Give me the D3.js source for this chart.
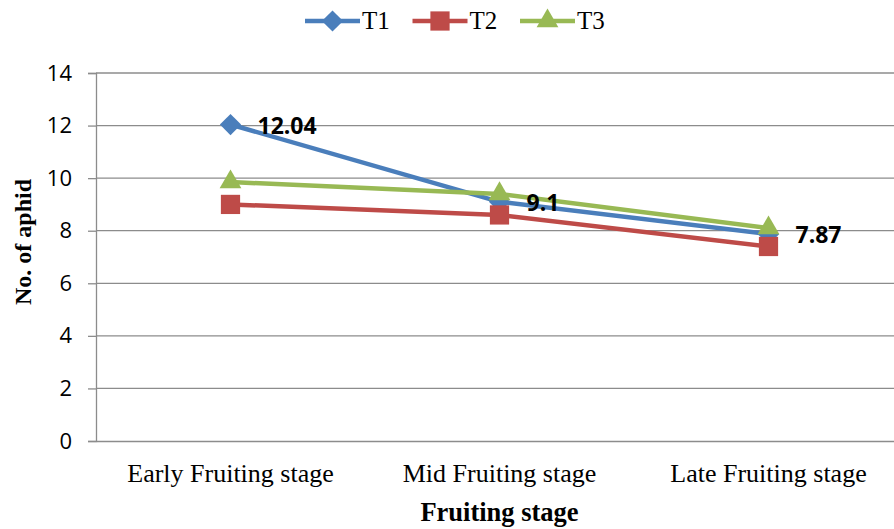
<!DOCTYPE html>
<html>
<head>
<meta charset="utf-8">
<script src="https://cdnjs.cloudflare.com/ajax/libs/d3/7.8.5/d3.min.js"></script>
<style>
  html, body { margin: 0; padding: 0; background: #fff; }
  svg { display: block; }
</style>
</head>
<body>
<svg id="chart" width="894" height="529"></svg>
<script>
// Aphid counts per fruiting stage for three treatments
const stages = ["Early Fruiting stage", "Mid Fruiting stage", "Late Fruiting stage"];
const t1 = [12.04, 9.1, 7.87];
const t2 = [9.0, 8.6, 7.4];
const t3 = [9.85, 9.4, 8.1];
const yTicks = [0, 2, 4, 6, 8, 10, 12, 14];
const seriesNames = ["T1", "T2", "T3"];
const colors = ["#4a7ebb", "#be4b48", "#98b954"];
// diamond = square turned 45 degrees
const markers = [
  { type: d3.symbolSquare, size: 225, rotate: 45 },
  { type: d3.symbolSquare, size: 370, rotate: 0 },
  { type: d3.symbolTriangle, size: 205, rotate: 0 }
];
// T1 carries the value labels
const labelled = [0];

const series = [t1, t2, t3].map((vals, i) => ({ name: seriesNames[i], vals, color: colors[i], marker: markers[i] }));

const svg = d3.select("#chart");
const plotLeft = 96, plotTop = 73, plotBottom = 441, plotRight = 903;

const x = d3.scaleBand().domain(stages).range([plotLeft, plotRight]);
const y = d3.scaleLinear().domain([0, 14]).range([plotBottom, plotTop]);
const cx = s => x(s) + x.bandwidth() / 2;

const grey = "#8c8c8c";
const serif = "'Liberation Serif', 'Times New Roman', serif";
const sans = "'Open Sans', 'Liberation Sans', sans-serif";

// horizontal gridlines
svg.append("g").selectAll("line").data(yTicks.filter(t => t > 0)).join("line")
  .attr("x1", plotLeft).attr("x2", plotRight)
  .attr("y1", d => y(d)).attr("y2", d => y(d))
  .attr("stroke", grey).attr("stroke-width", 1.3);

// y axis
const yAxis = svg.append("g").attr("transform", `translate(${plotLeft},0)`)
  .call(d3.axisLeft(y).tickValues(yTicks).tickSize(8).tickPadding(16));
yAxis.select(".domain").attr("stroke", grey).attr("stroke-width", 1.3);
yAxis.selectAll(".tick line").attr("stroke", grey).attr("stroke-width", 1.3);
yAxis.selectAll(".tick text")
  .attr("font-family", sans).attr("font-size", 22).attr("fill", "#000");

// x axis
const xAxis = svg.append("g").attr("transform", `translate(0,${plotBottom})`)
  .call(d3.axisBottom(x).tickSize(0));
xAxis.select(".domain").attr("stroke", grey).attr("stroke-width", 1.3);
xAxis.selectAll(".tick text")
  .attr("y", 41).attr("dy", 0)
  .attr("font-family", serif).attr("font-size", 26).attr("fill", "#000");

// axis titles
svg.append("text")
  .attr("transform", `translate(31,242) rotate(-90)`)
  .attr("text-anchor", "middle")
  .attr("font-family", serif).attr("font-weight", "bold").attr("font-size", 24)
  .text("No. of aphid");

svg.append("text")
  .attr("x", cx(stages[1])).attr("y", 521)
  .attr("text-anchor", "middle")
  .attr("font-family", serif).attr("font-weight", "bold").attr("font-size", 26.5)
  .text("Fruiting stage");

// lines and markers
const line = d3.line().x((d, i) => cx(stages[i])).y(d => y(d));
const markerPath = m => d3.symbol().type(m.type).size(m.size)();

series.forEach(s => {
  const g = svg.append("g");
  g.append("path").datum(s.vals)
    .attr("d", line).attr("fill", "none")
    .attr("stroke", s.color).attr("stroke-width", 4.5).attr("stroke-linejoin", "round");
  g.selectAll("path.m").data(s.vals).join("path").attr("class", "m")
    .attr("transform", (d, i) => `translate(${cx(stages[i])},${y(d)}) rotate(${s.marker.rotate})`)
    .attr("d", markerPath(s.marker))
    .attr("fill", s.color);
});

// value labels on T1
labelled.forEach(si => {
  svg.append("g").selectAll("text").data(series[si].vals).join("text")
    .attr("x", (d, i) => cx(stages[i]) + 27)
    .attr("y", d => y(d) + 9)
    .attr("font-family", sans).attr("font-weight", "bold").attr("font-size", 23)
    .attr("fill", "#000")
    .text(d => d);
});

// legend
const legend = svg.append("g").attr("transform", "translate(305,21)");
const legItem = legend.selectAll("g").data(series).join("g")
  .attr("transform", (d, i) => `translate(${i * 107.5},0)`);
legItem.append("line").attr("x1", 0).attr("x2", 55).attr("y1", 0).attr("y2", 0)
  .attr("stroke", d => d.color).attr("stroke-width", 4.5);
legItem.append("path")
  .attr("transform", d => `translate(27.5,0) rotate(${d.marker.rotate})`)
  .attr("d", d => markerPath(d.marker))
  .attr("fill", d => d.color);
legItem.append("text").attr("x", 57).attr("y", 8)
  .attr("font-family", serif).attr("font-size", 25).attr("fill", "#000")
  .text(d => d.name);
</script>
</body>
</html>
